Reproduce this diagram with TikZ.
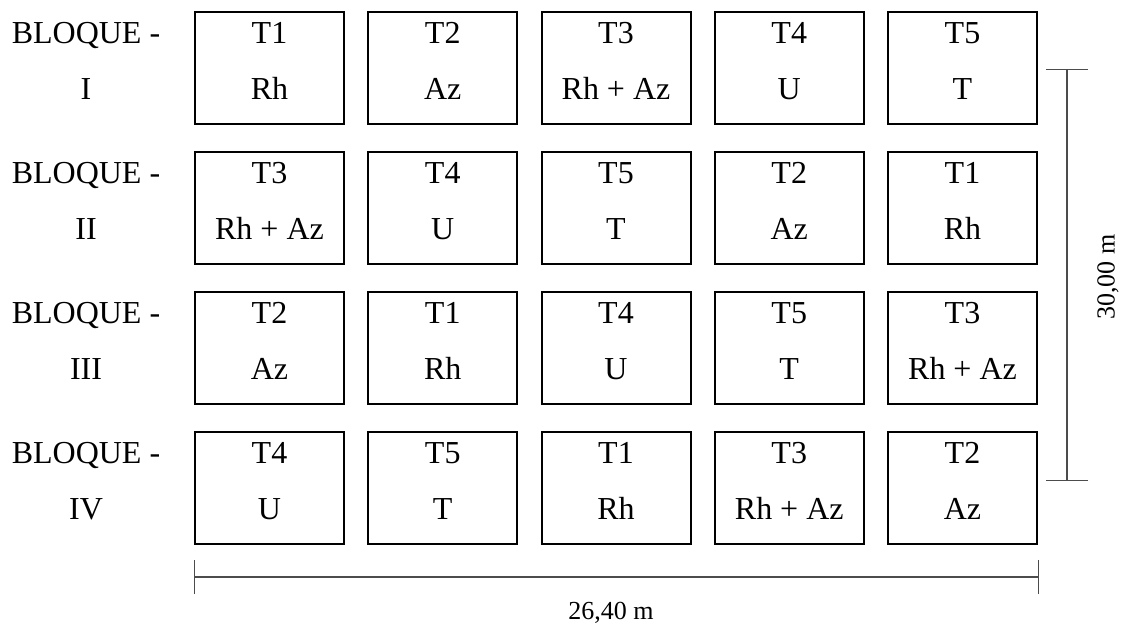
\documentclass[tikz,border=0pt]{standalone}
\usepackage{fontspec}
\setmainfont{Liberation Serif}
\usetikzlibrary{arrows.meta}

\newcommand{\trat}[1]{\ifcase#1\or Rh\or Az\or Rh + Az\or U\or T\fi}

\begin{document}
\begin{tikzpicture}[x=0.5pt,y=-0.5pt]

\tikzstyle{parcela}=[draw, line width=1pt, minimum width=74.5pt, minimum height=56pt, inner sep=0pt, align=center, font=\fontsize{16}{28}\selectfont, text depth=7.4pt]
\tikzstyle{bloque}=[align=center, font=\fontsize{16}{28}\selectfont, text depth=7.4pt, inner sep=0pt]
\tikzstyle{cota}=[draw=black!70, line width=0.6pt]
\tikzstyle{medida}=[font=\fontsize{13}{16}\selectfont, inner sep=0pt]

\useasboundingbox (0,0) rectangle (1128,628);

% bloques y parcelas
\foreach \r/\num in {1/I, 2/II, 3/III, 4/IV}
  \node[bloque] (b\r) at (86, {68+140*(\r-1)}) {BLOQUE -\\\num};

\foreach \r/\lista in {1/{1,2,3,4,5}, 2/{3,4,5,2,1}, 3/{2,1,4,5,3}, 4/{4,5,1,3,2}} {
  \foreach \tr [count=\c] in \lista
    \node[parcela] (p\r\c) at ({269.5+173.25*(\c-1)}, {68+140*(\r-1)}) {T\tr\\\trat{\tr}};
}

% cotas
\coordinate (h1) at (194,577);
\coordinate (h2) at (1039,577);
\draw[cota, {Bar[width=17pt]}-{Bar[width=17pt]}] (h1) -- (h2);
\node[medida] (lh) at (611,613) {26,40 m};

\coordinate (v1) at (1067,69);
\coordinate (v2) at (1067,481);
\draw[cota, {Bar[width=21pt]}-{Bar[width=21pt]}] (v1) -- (v2);
\node[medida, rotate=90] (lv) at (1108,277) {30,00 m};

\end{tikzpicture}
\end{document}
